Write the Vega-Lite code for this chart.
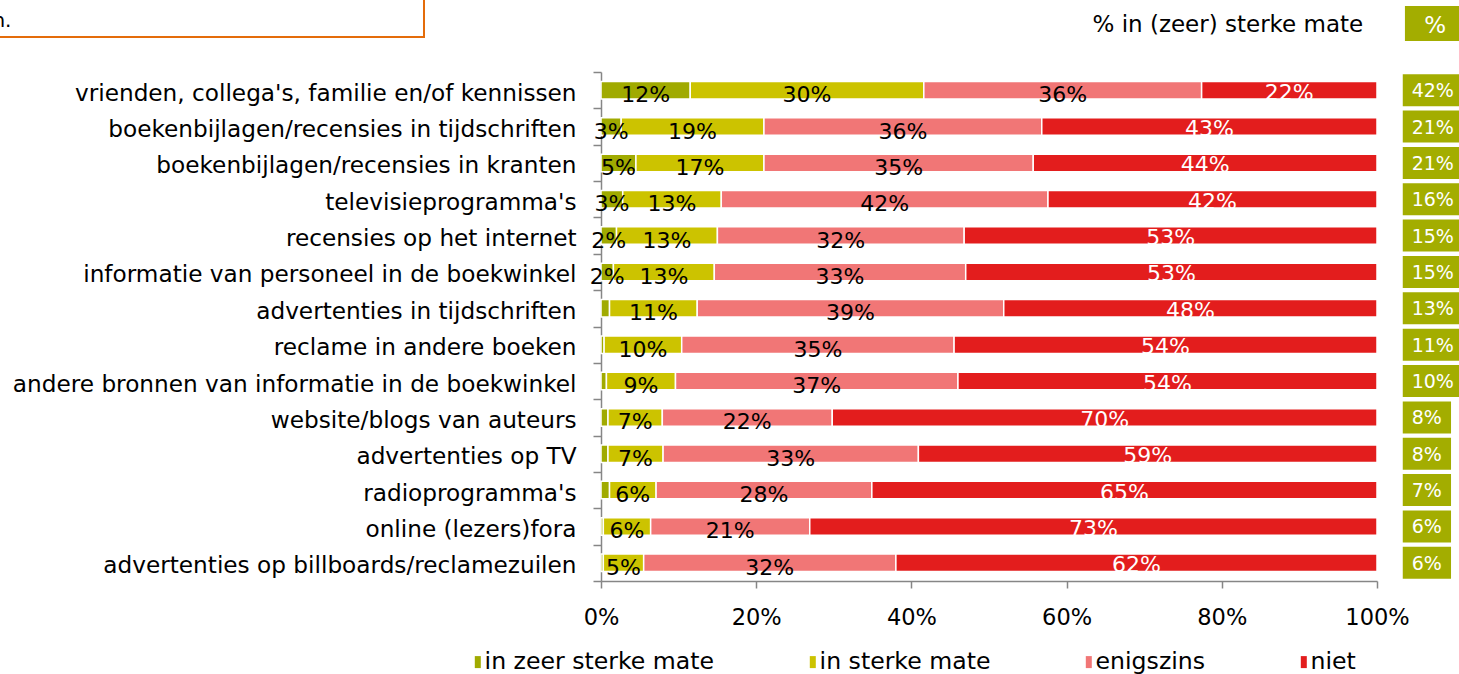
{
  "$schema": "https://vega.github.io/schema/vega-lite/v6.json",
  "width": 776,
  "height": 509,
  "autosize": {"type": "none"},
  "padding": {"left": 601, "top": 72, "right": 82, "bottom": 93},
  "background": "white",
  "config": {"view": {"stroke": null}, "font": "DejaVu Sans"},
  "datasets": {
    "seg": [
      {"cat": "vrienden, collega's, familie en/of kennissen", "level": "in zeer sterke mate", "k": 1, "value": 11.5, "label": "12%"},
      {"cat": "vrienden, collega's, familie en/of kennissen", "level": "in sterke mate", "k": 2, "value": 30.1, "label": "30%"},
      {"cat": "vrienden, collega's, familie en/of kennissen", "level": "enigszins", "k": 3, "value": 35.8, "label": "36%"},
      {"cat": "vrienden, collega's, familie en/of kennissen", "level": "niet", "k": 4, "value": 22.6, "label": "22%"},
      {"cat": "boekenbijlagen/recensies in tijdschriften", "level": "in zeer sterke mate", "k": 1, "value": 2.6, "label": "3%"},
      {"cat": "boekenbijlagen/recensies in tijdschriften", "level": "in sterke mate", "k": 2, "value": 18.4, "label": "19%"},
      {"cat": "boekenbijlagen/recensies in tijdschriften", "level": "enigszins", "k": 3, "value": 35.8, "label": "36%"},
      {"cat": "boekenbijlagen/recensies in tijdschriften", "level": "niet", "k": 4, "value": 43.2, "label": "43%"},
      {"cat": "boekenbijlagen/recensies in kranten", "level": "in zeer sterke mate", "k": 1, "value": 4.5, "label": "5%"},
      {"cat": "boekenbijlagen/recensies in kranten", "level": "in sterke mate", "k": 2, "value": 16.5, "label": "17%"},
      {"cat": "boekenbijlagen/recensies in kranten", "level": "enigszins", "k": 3, "value": 34.7, "label": "35%"},
      {"cat": "boekenbijlagen/recensies in kranten", "level": "niet", "k": 4, "value": 44.3, "label": "44%"},
      {"cat": "televisieprogramma's", "level": "in zeer sterke mate", "k": 1, "value": 2.8, "label": "3%"},
      {"cat": "televisieprogramma's", "level": "in sterke mate", "k": 2, "value": 12.7, "label": "13%"},
      {"cat": "televisieprogramma's", "level": "enigszins", "k": 3, "value": 42.1, "label": "42%"},
      {"cat": "televisieprogramma's", "level": "niet", "k": 4, "value": 42.4, "label": "42%"},
      {"cat": "recensies op het internet", "level": "in zeer sterke mate", "k": 1, "value": 2.0, "label": "2%"},
      {"cat": "recensies op het internet", "level": "in sterke mate", "k": 2, "value": 13.0, "label": "13%"},
      {"cat": "recensies op het internet", "level": "enigszins", "k": 3, "value": 31.8, "label": "32%"},
      {"cat": "recensies op het internet", "level": "niet", "k": 4, "value": 53.2, "label": "53%"},
      {"cat": "informatie van personeel in de boekwinkel", "level": "in zeer sterke mate", "k": 1, "value": 1.6, "label": "2%"},
      {"cat": "informatie van personeel in de boekwinkel", "level": "in sterke mate", "k": 2, "value": 13.0, "label": "13%"},
      {"cat": "informatie van personeel in de boekwinkel", "level": "enigszins", "k": 3, "value": 32.4, "label": "33%"},
      {"cat": "informatie van personeel in de boekwinkel", "level": "niet", "k": 4, "value": 53.0, "label": "53%"},
      {"cat": "advertenties in tijdschriften", "level": "in zeer sterke mate", "k": 1, "value": 1.1, "label": ""},
      {"cat": "advertenties in tijdschriften", "level": "in sterke mate", "k": 2, "value": 11.3, "label": "11%"},
      {"cat": "advertenties in tijdschriften", "level": "enigszins", "k": 3, "value": 39.5, "label": "39%"},
      {"cat": "advertenties in tijdschriften", "level": "niet", "k": 4, "value": 48.1, "label": "48%"},
      {"cat": "reclame in andere boeken", "level": "in zeer sterke mate", "k": 1, "value": 0.4, "label": ""},
      {"cat": "reclame in andere boeken", "level": "in sterke mate", "k": 2, "value": 10.0, "label": "10%"},
      {"cat": "reclame in andere boeken", "level": "enigszins", "k": 3, "value": 35.1, "label": "35%"},
      {"cat": "reclame in andere boeken", "level": "niet", "k": 4, "value": 54.5, "label": "54%"},
      {"cat": "andere bronnen van informatie in de boekwinkel", "level": "in zeer sterke mate", "k": 1, "value": 0.7, "label": ""},
      {"cat": "andere bronnen van informatie in de boekwinkel", "level": "in sterke mate", "k": 2, "value": 8.9, "label": "9%"},
      {"cat": "andere bronnen van informatie in de boekwinkel", "level": "enigszins", "k": 3, "value": 36.4, "label": "37%"},
      {"cat": "andere bronnen van informatie in de boekwinkel", "level": "niet", "k": 4, "value": 54.0, "label": "54%"},
      {"cat": "website/blogs van auteurs", "level": "in zeer sterke mate", "k": 1, "value": 0.9, "label": ""},
      {"cat": "website/blogs van auteurs", "level": "in sterke mate", "k": 2, "value": 7.0, "label": "7%"},
      {"cat": "website/blogs van auteurs", "level": "enigszins", "k": 3, "value": 21.9, "label": "22%"},
      {"cat": "website/blogs van auteurs", "level": "niet", "k": 4, "value": 70.2, "label": "70%"},
      {"cat": "advertenties op TV", "level": "in zeer sterke mate", "k": 1, "value": 0.9, "label": ""},
      {"cat": "advertenties op TV", "level": "in sterke mate", "k": 2, "value": 7.1, "label": "7%"},
      {"cat": "advertenties op TV", "level": "enigszins", "k": 3, "value": 32.9, "label": "33%"},
      {"cat": "advertenties op TV", "level": "niet", "k": 4, "value": 59.1, "label": "59%"},
      {"cat": "radioprogramma's", "level": "in zeer sterke mate", "k": 1, "value": 1.1, "label": ""},
      {"cat": "radioprogramma's", "level": "in sterke mate", "k": 2, "value": 6.0, "label": "6%"},
      {"cat": "radioprogramma's", "level": "enigszins", "k": 3, "value": 27.8, "label": "28%"},
      {"cat": "radioprogramma's", "level": "niet", "k": 4, "value": 65.1, "label": "65%"},
      {"cat": "online (lezers)fora", "level": "in zeer sterke mate", "k": 1, "value": 0.3, "label": ""},
      {"cat": "online (lezers)fora", "level": "in sterke mate", "k": 2, "value": 6.1, "label": "6%"},
      {"cat": "online (lezers)fora", "level": "enigszins", "k": 3, "value": 20.5, "label": "21%"},
      {"cat": "online (lezers)fora", "level": "niet", "k": 4, "value": 73.1, "label": "73%"},
      {"cat": "advertenties op billboards/reclamezuilen", "level": "in zeer sterke mate", "k": 1, "value": 0.3, "label": ""},
      {"cat": "advertenties op billboards/reclamezuilen", "level": "in sterke mate", "k": 2, "value": 5.2, "label": "5%"},
      {"cat": "advertenties op billboards/reclamezuilen", "level": "enigszins", "k": 3, "value": 32.5, "label": "32%"},
      {"cat": "advertenties op billboards/reclamezuilen", "level": "niet", "k": 4, "value": 62.0, "label": "62%"}
    ],
    "tot": [
      {"cat": "vrienden, collega's, familie en/of kennissen", "total": 0.42},
      {"cat": "boekenbijlagen/recensies in tijdschriften", "total": 0.21},
      {"cat": "boekenbijlagen/recensies in kranten", "total": 0.21},
      {"cat": "televisieprogramma's", "total": 0.16},
      {"cat": "recensies op het internet", "total": 0.15},
      {"cat": "informatie van personeel in de boekwinkel", "total": 0.15},
      {"cat": "advertenties in tijdschriften", "total": 0.13},
      {"cat": "reclame in andere boeken", "total": 0.11},
      {"cat": "andere bronnen van informatie in de boekwinkel", "total": 0.10},
      {"cat": "website/blogs van auteurs", "total": 0.08},
      {"cat": "advertenties op TV", "total": 0.08},
      {"cat": "radioprogramma's", "total": 0.07},
      {"cat": "online (lezers)fora", "total": 0.06},
      {"cat": "advertenties op billboards/reclamezuilen", "total": 0.06}
    ],
    "one": [{"item": "header"}]
  },
  "layer": [
    {
      "layer": [
        {
          "data": {"name": "seg"},
          "mark": {"type": "bar", "height": 17.5, "stroke": "white", "strokeWidth": 1.5},
          "encoding": {
            "y": {
              "field": "cat", "type": "nominal", "sort": null,
              "scale": {"paddingInner": 0, "paddingOuter": 0},
              "axis": {
                "title": null, "tickBand": "extent", "tickSize": 8, "tickColor": "#868686", "tickWidth": 1.5,
                "domainColor": "#868686", "domainWidth": 1.5, "labelFont": "DejaVu Sans", "labelFontSize": 23.2,
                "labelColor": "black", "labelLimit": 800, "labelPadding": 17, "labelBaseline": "alphabetic",
                "labelOffset": 10, "labelAlign": "right"
              }
            },
            "x": {
              "field": "value", "type": "quantitative", "stack": "zero",
              "scale": {"domain": [0, 100], "nice": false},
              "axis": {
                "title": null, "values": [0, 20, 40, 60, 80, 100], "labelExpr": "datum.value + '%'", "grid": false,
                "tickSize": 7, "tickColor": "#868686", "tickWidth": 1.5, "domainColor": "#868686", "domainWidth": 1.5,
                "labelFont": "DejaVu Sans", "labelFontSize": 22.5, "labelColor": "black", "labelBaseline": "alphabetic",
                "labelPadding": 36, "labelFlush": false, "labelOverlap": false
              }
            },
            "color": {
              "field": "level", "type": "nominal",
              "scale": {
                "domain": ["in zeer sterke mate", "in sterke mate", "enigszins", "niet"],
                "range": ["#A0AA00", "#CCC300", "#F17676", "#E31D1D"]
              },
              "legend": {
                "title": null, "orient": "none", "legendX": -135, "legendY": 578, "direction": "horizontal",
                "symbolType": "M-0.5,-1H0.5V1H-0.5Z", "symbolSize": 144, "symbolStrokeWidth": 0, "symbolOpacity": 1,
                "labelFont": "DejaVu Sans", "labelFontSize": 23.6, "labelColor": "black", "labelOffset": -5,
                "columnPadding": 86, "labelLimit": 400
              }
            },
            "order": {"field": "k", "type": "quantitative"}
          }
        },
        {
          "data": {"name": "seg"},
          "mark": {"type": "text", "baseline": "alphabetic", "dy": 12, "fontSize": 22, "font": "DejaVu Sans", "color": "black"},
          "encoding": {
            "y": {"field": "cat", "type": "nominal", "sort": null},
            "x": {"field": "value", "type": "quantitative", "stack": "zero", "bandPosition": 0.5, "title": null},
            "detail": {"field": "level"},
            "order": {"field": "k", "type": "quantitative"},
            "text": {"condition": {"test": "datum.level != 'niet'", "field": "label"}, "value": ""}
          }
        },
        {
          "data": {"name": "seg"},
          "mark": {"type": "text", "baseline": "alphabetic", "dy": 9.5, "fontSize": 22, "font": "DejaVu Sans", "color": "white"},
          "encoding": {
            "y": {"field": "cat", "type": "nominal", "sort": null},
            "x": {"field": "value", "type": "quantitative", "stack": "zero", "bandPosition": 0.5, "title": null},
            "detail": {"field": "level"},
            "order": {"field": "k", "type": "quantitative"},
            "text": {"condition": {"test": "datum.level == 'niet'", "field": "label"}, "value": ""}
          }
        },
        {
          "data": {"name": "tot"},
          "transform": [{"filter": "datum.total >= 0.095"}],
          "mark": {"type": "bar", "height": 32, "color": "#A3AD00"},
          "encoding": {
            "y": {"field": "cat", "type": "nominal", "sort": null},
            "x": {"datum": 103.32, "title": null},
            "x2": {"datum": 110.57}
          }
        },
        {
          "data": {"name": "tot"},
          "transform": [{"filter": "datum.total < 0.095"}],
          "mark": {"type": "bar", "height": 32, "color": "#A3AD00"},
          "encoding": {
            "y": {"field": "cat", "type": "nominal", "sort": null},
            "x": {"datum": 103.32, "title": null},
            "x2": {"datum": 109.54}
          }
        },
        {
          "data": {"name": "tot"},
          "mark": {"type": "text", "align": "left", "baseline": "alphabetic", "dy": 7, "fontSize": 19, "font": "DejaVu Sans", "color": "white"},
          "encoding": {
            "y": {"field": "cat", "type": "nominal", "sort": null},
            "x": {"datum": 104.47, "title": null},
            "text": {"field": "total", "type": "quantitative", "format": ".0%"}
          }
        }
      ]
    },
    {
      "data": {"name": "one"},
      "layer": [
        {
          "mark": {"type": "rect", "fill": "transparent", "stroke": "#E46C0A", "strokeWidth": 2},
          "encoding": {
            "x": {"datum": -90, "title": null},
            "x2": {"datum": -22.81},
            "y": {"datum": -3, "type": "quantitative", "scale": {"domain": [0, 1], "range": [-66, -31]}, "axis": null},
            "y2": {"datum": 0.886}
          }
        },
        {
          "mark": {"type": "text", "align": "right", "baseline": "alphabetic", "fontSize": 20, "font": "DejaVu Sans", "color": "black", "text": "n."},
          "encoding": {
            "x": {"datum": -75.97, "title": null},
            "y": {"datum": 0.59, "type": "quantitative", "scale": {"domain": [0, 1], "range": [-66, -31]}, "axis": null}
          }
        },
        {
          "mark": {"type": "text", "align": "right", "baseline": "alphabetic", "fontSize": 23, "font": "DejaVu Sans", "color": "black", "text": "% in (zeer) sterke mate"},
          "encoding": {
            "x": {"datum": 98.23, "title": null},
            "y": {"datum": 0.757, "type": "quantitative", "scale": {"domain": [0, 1], "range": [-66, -31]}, "axis": null}
          }
        },
        {
          "mark": {"type": "rect", "color": "#A3AD00"},
          "encoding": {
            "x": {"datum": 103.6, "title": null},
            "x2": {"datum": 110.6},
            "y": {"datum": 0, "type": "quantitative", "scale": {"domain": [0, 1], "range": [-66, -31]}, "axis": null},
            "y2": {"datum": 1}
          }
        },
        {
          "mark": {"type": "text", "align": "center", "baseline": "alphabetic", "fontSize": 23, "font": "DejaVu Sans", "color": "white", "text": "%"},
          "encoding": {
            "x": {"datum": 107.5, "title": null},
            "y": {"datum": 0.77, "type": "quantitative", "scale": {"domain": [0, 1], "range": [-66, -31]}, "axis": null}
          }
        }
      ]
    }
  ],
  "resolve": {"scale": {"y": "independent"}}
}
